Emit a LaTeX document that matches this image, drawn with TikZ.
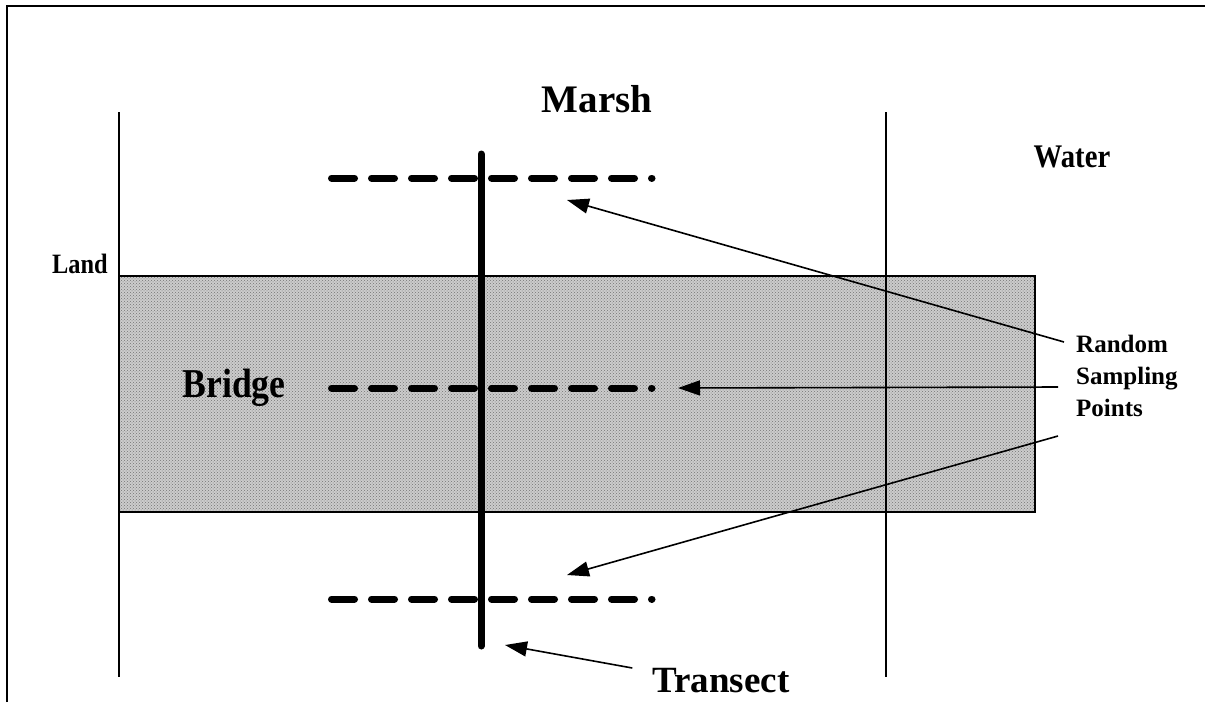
\documentclass[tikz,border=0pt]{standalone}
\usepackage{fontspec}
\setmainfont{Liberation Serif}
\newfontfamily\narrowserif[FakeStretch=0.87]{Liberation Serif}
\usetikzlibrary{arrows.meta,patterns}
\tikzset{
  frame/.style={
    line width=2.5pt
  },
  boundary/.style={
    line width=1.5pt
  },
  deck/.style={
    draw,
    line width=1.5pt,
    preaction={fill=black!20},
    pattern=crosshatch dots,
    pattern color=black!55
  },
  transectline/.style={
    line width=7pt,
    line cap=round
  },
  samplerow/.style={
    line width=7pt,
    line cap=round,
    dash pattern=on 23pt off 17pt
  },
  pointer/.style={
    -{Triangle[length=22pt,width=15pt]},
    line width=1.6pt
  },
  bigname/.style={
    inner sep=0pt,
    anchor=base,
    font=\bfseries\fontsize{39}{39}\selectfont
  },
  areaname/.style={
    inner sep=0pt,
    anchor=base,
    font=\narrowserif\bfseries\fontsize{#1}{#1}\selectfont
  },
  note/.style={
    inner sep=0pt,
    align=left,
    font=\bfseries\fontsize{25}{32}\selectfont
  }
}

\begin{document}
\begin{tikzpicture}[x=1pt,y=-1pt]
  \useasboundingbox (0,0) rectangle (1205,702);

  % outer frame
  \draw[frame] (7,702) -- (7,6) -- (1205,6);

  % bridge deck
  \path[deck] (119,276) rectangle (1035,512);

  % marsh boundaries
  \draw[boundary] (119,112) -- (119,677);
  \draw[boundary] (886,112) -- (886,677);

  % area names
  \node[bigname] (marsh) at (597,112) {Marsh};
  \node[areaname=33] (water) at (1072,167) {Water};
  \node[areaname=28] (land) at (80,273) {Land};
  \node[areaname=41] (bridgename) at (234,397) {Bridge};

  % sampling rows
  \coordinate (rowA) at (331.5,178);
  \coordinate (rowB) at (331.5,388);
  \coordinate (rowC) at (331.5,599);
  \foreach \r in {rowA,rowB,rowC}
    \draw[samplerow] (\r) -- ++(320.5,0);

  % transect
  \coordinate (ttop) at (481,154);
  \coordinate (tbot) at (481,646);
  \draw[transectline] (ttop) -- (tbot);

  % labels with pointers
  \node[note, anchor=north west] (points) at (1076,335) {Random\\Sampling\\Points};
  \node[bigname, font=\bfseries\fontsize{37}{37}\selectfont] (transect) at (721,692) {Transect};

  \coordinate (tipA) at (567,200);
  \coordinate (tipB) at (678,388);
  \coordinate (tipC) at (567,575);
  \coordinate (tipT) at (505,645);

  \draw[pointer] (points.west |- 0,342) ++(-12,0) -- (tipA);
  \draw[pointer] (points.west |- 0,387) ++(-18,0) -- (tipB);
  \draw[pointer] (points.west |- 0,436) ++(-18,0) -- (tipC);
  \draw[pointer] (transect.west |- 0,668) ++(-20,0) -- (tipT);
\end{tikzpicture}
\end{document}
